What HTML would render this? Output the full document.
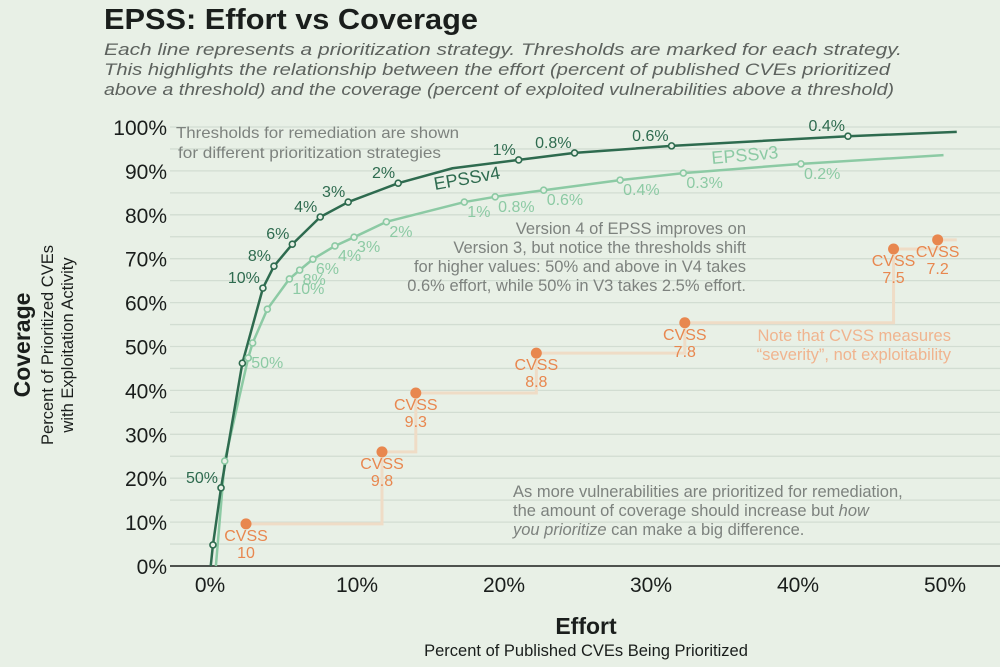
<!DOCTYPE html>
<html><head><meta charset="utf-8"><style>
body{margin:0;background:#e8f0e6;}
svg{display:block;font-family:"Liberation Sans",sans-serif;}
</style></head><body>
<svg id="chart" width="1000" height="667" viewBox="0 0 1000 667">
<rect width="1000" height="667" fill="#e8f0e6"/>
<text x="104" y="29" font-size="29" font-weight="bold" fill="#1a1e1c" textLength="374" lengthAdjust="spacingAndGlyphs">EPSS: Effort vs Coverage</text>
<g font-size="17" font-style="italic" fill="#5d625e">
<text x="104" y="55" textLength="798" lengthAdjust="spacingAndGlyphs">Each line represents a prioritization strategy. Thresholds are marked for each strategy.</text>
<text x="104" y="75" textLength="786" lengthAdjust="spacingAndGlyphs">This highlights the relationship between the effort (percent of published CVEs prioritized</text>
<text x="104" y="95" textLength="790" lengthAdjust="spacingAndGlyphs">above a threshold) and the coverage (percent of exploited vulnerabilities above a threshold)</text>
</g>
<g id="grid"></g>
<g id="yticks" font-size="21" fill="#1a1e1c" text-anchor="end"></g>
<g id="xticks" font-size="21" fill="#1a1e1c" text-anchor="middle"></g>
<text x="30" y="345" font-size="23" font-weight="bold" fill="#1a1e1c" text-anchor="middle" transform="rotate(-90 30 345)">Coverage</text>
<text x="53" y="345" font-size="16.5" fill="#1a1e1c" text-anchor="middle" transform="rotate(-90 53 345)">Percent of Prioritized CVEs</text>
<text x="73" y="345" font-size="16.5" fill="#1a1e1c" text-anchor="middle" transform="rotate(-90 73 345)">with Exploitation Activity</text>
<text x="586" y="634" font-size="23" font-weight="bold" fill="#1a1e1c" text-anchor="middle">Effort</text>
<text x="586" y="656" font-size="16.5" fill="#1a1e1c" text-anchor="middle">Percent of Published CVEs Being Prioritized</text>
<g id="marks"></g>
<g font-size="16" fill="#7d827e">
<text x="176" y="138" textLength="283" lengthAdjust="spacingAndGlyphs">Thresholds for remediation are shown</text>
<text x="178" y="158" textLength="263" lengthAdjust="spacingAndGlyphs">for different prioritization strategies</text>
</g>
<g font-size="16.5" fill="#7d827e" text-anchor="end">
<text x="746" y="234">Version 4 of EPSS improves on</text>
<text x="746" y="253">Version 3, but notice the thresholds shift</text>
<text x="746" y="272">for higher values: 50% and above in V4 takes</text>
<text x="746" y="291">0.6% effort, while 50% in V3 takes 2.5% effort.</text>
</g>
<g font-size="16.5" fill="#f0b48f" text-anchor="end">
<text x="951" y="341">Note that CVSS measures</text>
<text x="951" y="360">“severity”, not exploitability</text>
</g>
<g font-size="16.5" fill="#7d827e">
<text x="513" y="497">As more vulnerabilities are prioritized for remediation,</text>
<text x="513" y="516">the amount of coverage should increase but <tspan font-style="italic">how</tspan></text>
<text x="513" y="535"><tspan font-style="italic">you prioritize</tspan> can make a big difference.</text>
</g>
<text x="435" y="190" font-size="18" fill="#2e6b4f" transform="rotate(-10 435 190)">EPSSv4</text>
<text x="712" y="164" font-size="18" fill="#8ccaa4" transform="rotate(-5 712 164)">EPSSv3</text>
</svg>
<script>
const yTicks=[0,10,20,30,40,50,60,70,80,90,100];
const xTicks=[0,10,20,30,40,50];
const v4X=[0.05,0.2,0.75,2.2,3.6,4.35,5.6,7.5,9.4,12.8,16.5,21.0,24.8,31.4,43.4,50.8];
const v4Y=[0,4.8,17.8,46.2,63.3,68.3,73.3,79.5,82.9,87.2,90.6,92.5,94.1,95.7,97.9,98.9];
const v4Labels=["","","50%","","10%","8%","6%","4%","3%","2%","","1%","0.8%","0.6%","0.4%",""];
const v4Marked=[0,1,1,1,1,1,1,1,1,1,0,1,1,1,1,0];
const v3X=[0.4,1.0,2.6,2.9,3.9,5.4,6.1,7.0,8.5,9.8,12.0,17.3,19.4,22.7,27.9,32.2,40.2,49.9];
const v3Y=[0,23.9,47.4,50.8,58.5,65.4,67.4,69.9,72.9,74.9,78.4,82.9,84.1,85.6,87.9,89.5,91.6,93.6];
const v3Labels=["","","50%","","","10%","8%","6%","4%","3%","2%","1%","0.8%","0.6%","0.4%","0.3%","0.2%",""];
const v3Marked=[0,1,1,1,1,1,1,1,1,1,1,1,1,1,1,1,1,0];
const cvssX=[2.45,11.7,14.0,22.2,32.3,46.5,49.5];
const cvssY=[9.6,26.0,39.4,48.5,55.4,72.2,74.3];
const cvssLabels=["10","9.8","9.3","8.8","7.8","7.5","7.2"];
const NS="http://www.w3.org/2000/svg";
const sx=v=>210+v*14.7, sy=v=>566-v*4.39;
function mk(tag,attrs,parent,txt){const e=document.createElementNS(NS,tag);for(const k in attrs)e.setAttribute(k,attrs[k]);if(txt!==undefined)e.textContent=txt;parent.appendChild(e);return e;}
const grid=document.getElementById('grid'),yt=document.getElementById('yticks'),xt=document.getElementById('xticks'),marks=document.getElementById('marks');
for(let v=5;v<=100;v+=5){const l=mk('line',{x1:170,x2:1000,y1:sy(v),y2:sy(v),stroke:'#d2ddd2','stroke-width':1.3},grid);

}
yTicks.forEach(v=>{const t=mk('text',{x:167,y:sy(v)+8},yt,v+'%');

});
xTicks.forEach(v=>{const t=mk('text',{x:sx(v),y:592},xt,v+'%');

});
const ax=mk('line',{x1:170,x2:1000,y1:sy(0),y2:sy(0),stroke:'#1a1e1c','stroke-width':1.5},grid);


let d='M'+sx(cvssX[0])+','+sy(cvssY[0]);
for(let i=1;i<cvssX.length;i++){d+=' H'+sx(cvssX[i])+' V'+sy(cvssY[i]);}
d+=' H'+sx(50.8);
const sp=mk('path',{d:d,fill:'none',stroke:'#efdcc6','stroke-width':3},marks);


function line(xs,ys,col,w,name){const p=mk('path',{d:xs.map((x,i)=>(i?'L':'M')+sx(x)+','+sy(ys[i])).join(' '),fill:'none',stroke:col,'stroke-width':w,'stroke-linejoin':'round'},marks);

}
line(v3X,v3Y,'#8ccaa4',2.5,'epssv3-line');
line(v4X,v4Y,'#2e6b4f',2.5,'epssv4-line');
function pts(xs,ys,marked,labels,col,name,light){xs.forEach((x,i)=>{if(marked[i]){const c=mk('circle',{cx:sx(x),cy:sy(ys[i]),r:3,fill:'#e8f0e6',stroke:col,'stroke-width':1.6},marks);

}
if(labels[i]){let a=light?{x:sx(x)+3,y:sy(ys[i])+15,'text-anchor':'start'}:{x:sx(x)-3,y:sy(ys[i])-5,'text-anchor':'end'};
if(light&&i===2){a={x:sx(x)+3,y:sy(ys[i])+10,'text-anchor':'start'};}
const t=mk('text',Object.assign(a,{'font-size':16,fill:col}),marks,labels[i]);

}});}
pts(v3X,v3Y,v3Marked,v3Labels,'#8ccaa4','epssv3',true);
pts(v4X,v4Y,v4Marked,v4Labels,'#2e6b4f','epssv4',false);
cvssX.forEach((x,i)=>{const c=mk('circle',{cx:sx(x),cy:sy(cvssY[i]),r:5.5,fill:'#e8874f'},marks);


const t=mk('text',{x:sx(x),y:sy(cvssY[i])+17,'font-size':16,fill:'#e8874f','text-anchor':'middle'},marks);


mk('tspan',{x:sx(x),dy:0},t,'CVSS');mk('tspan',{x:sx(x),dy:17},t,cvssLabels[i]);});
</script>
</body></html>
